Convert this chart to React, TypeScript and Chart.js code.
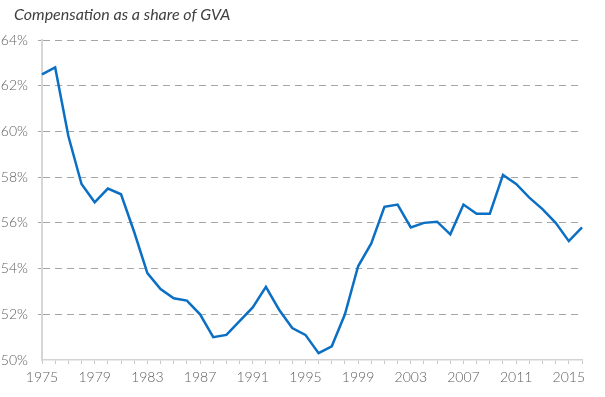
import React, { useEffect, useRef } from "react";
import { Chart, registerables } from "chart.js";

Chart.register(...registerables);

const TITLE = "Compensation as a share of GVA";

const years: string[] = [
  "1975", "1976", "1977", "1978", "1979", "1980", "1981", "1982", "1983", "1984",
  "1985", "1986", "1987", "1988", "1989", "1990", "1991", "1992", "1993", "1994",
  "1995", "1996", "1997", "1998", "1999", "2000", "2001", "2002", "2003", "2004",
  "2005", "2006", "2007", "2008", "2009", "2010", "2011", "2012", "2013", "2014",
  "2015", "2016",
];

const compensationShare: number[] = [
  62.5, 62.8, 59.8, 57.7, 56.9, 57.5, 57.25, 55.6, 53.8, 53.1,
  52.7, 52.6, 52.0, 51.0, 51.1, 51.7, 52.3, 53.2, 52.2, 51.4,
  51.1, 50.3, 50.6, 52.0, 54.1, 55.1, 56.7, 56.8, 55.8, 56.0,
  56.05, 55.5, 56.8, 56.4, 56.4, 58.1, 57.7, 57.1, 56.6, 56.0,
  55.2, 55.8,
];

const yMin = 50;
const yMax = 64;
const yStep = 2;
const labelEvery = 4;

const titlePlugin = {
  id: "customTitle",
  afterDraw(chart: any) {
    const ctx = chart.ctx;
    ctx.save();
    ctx.font = "italic 16px Lato";
    ctx.fillStyle = "#404040";
    ctx.textBaseline = "middle";
    ctx.textAlign = "left";
    ctx.fillText(TITLE, 14, 15);
    ctx.restore();
  },
};

export default function App() {
  const canvasRef = useRef<HTMLCanvasElement | null>(null);

  useEffect(() => {
    if (!canvasRef.current) return;
    const chart = new Chart(canvasRef.current, {
      type: "line",
      data: {
        labels: years,
        datasets: [
          {
            data: compensationShare,
            borderColor: "#0B6FC4",
            borderWidth: 2.5,
            pointRadius: 0,
            tension: 0,
            fill: false,
          },
        ],
      },
      plugins: [titlePlugin],
      options: {
        animation: false,
        responsive: false,
        maintainAspectRatio: false,
        layout: { padding: { top: 40, left: 0, right: 23, bottom: 0 } },
        plugins: {
          legend: { display: false },
          title: { display: false },
          tooltip: { enabled: false },
        },
        scales: {
          x: {
            type: "category",
            offset: false,
            grid: {
              display: true,
              drawOnChartArea: false,
              drawTicks: true,
              tickLength: 4,
              color: "#c8c8c8",
            },
            border: { display: true, color: "#d3d3d3", width: 1.5 },
            ticks: {
              autoSkip: false,
              maxRotation: 0,
              minRotation: 0,
              padding: 5,
              color: "#606060",
              font: { family: "Lato", size: 14, weight: "300" },
              callback: (_v: any, i: number) => (i % labelEvery === 0 ? years[i] : ""),
            },
            afterFit: (scale: any) => {
              scale.height = 37;
            },
          },
          y: {
            min: yMin,
            max: yMax,
            grid: {
              display: true,
              drawOnChartArea: true,
              drawTicks: true,
              tickLength: 4,
              color: (ctx: any) => (ctx.tick && ctx.tick.value === yMin ? "rgba(0,0,0,0)" : "#a6a6a6"),
              lineWidth: 1,
            },
            border: { display: true, color: "#d6d6d6", width: 2, dash: [7, 5] },
            ticks: {
              stepSize: yStep,
              padding: 10,
              color: "#606060",
              font: { family: "Lato", size: 14, weight: "300" },
              callback: (v: any) => v + "%",
            },
            afterFit: (scale: any) => {
              scale.width = 42;
            },
          },
        },
      },
    });
    return () => chart.destroy();
  }, []);

  return (
    <div style={{ position: "fixed", left: 0, top: 0, width: 605, height: 397, background: "#fff" }}>
      <canvas ref={canvasRef} width={605} height={397} style={{ width: 605, height: 397 }} />
    </div>
  );
}
